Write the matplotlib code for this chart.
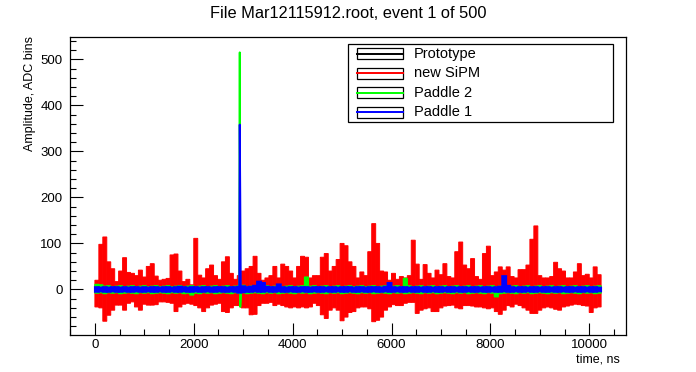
import numpy as np
import matplotlib
matplotlib.use("Agg")
import matplotlib.pyplot as plt
from matplotlib.patches import Rectangle
from matplotlib.lines import Line2D
from matplotlib.ticker import MultipleLocator

plt.rcParams['font.family'] = ['Liberation Sans', 'DejaVu Sans']

title = "File Mar12115912.root, event 1 of 500"
xlabel = "time, ns"
ylabel = "Amplitude, ADC bins"
series_names = ["Prototype", "new SiPM", "Paddle 2", "Paddle 1"]
series_colors = ["#000000", "#ff0000", "#00ff00", "#0000ff"]

block_ns = 80          # width of one envelope block
# new SiPM: upper / lower excursions per 80 ns block
red_hi = [20, 98, 114, 60, 45, 17, 40, 69, 37, 35, 30, 42, 27, 50, 56, 29,
          20, 22, 24, 75, 77, 40, 17, 22, 10, 111, 31, 25, 45, 53, 30, 22,
          60, 71, 35, 22, 30, 40, 45, 50, 72, 35, 20, 25, 30, 50, 25, 55,
          50, 40, 25, 50, 72, 70, 25, 30, 30, 70, 78, 40, 50, 65, 100, 95,
          60, 50, 25, 38, 30, 82, 143, 100, 40, 38, 20, 35, 22, 28, 25, 30,
          107, 55, 22, 54, 35, 25, 42, 32, 56, 28, 25, 82, 103, 53, 45, 67,
          28, 22, 78, 94, 30, 38, 49, 42, 49, 28, 25, 43, 43, 53, 109, 138,
          30, 25, 25, 28, 59, 45, 40, 25, 25, 38, 56, 30, 33, 25, 49, 32]
red_lo = [-38, -40, -69, -56, -45, -34, -34, -45, -30, -27, -38, -45, -32, -34, -34, -33,
          -27, -27, -28, -30, -48, -38, -32, -30, -32, -35, -40, -48, -40, -34, -32, -30,
          -48, -50, -40, -35, -35, -40, -40, -55, -54, -35, -30, -30, -28, -35, -32, -35,
          -38, -40, -38, -40, -38, -40, -38, -30, -35, -55, -63, -45, -40, -45, -68, -60,
          -50, -48, -40, -38, -38, -42, -70, -67, -60, -45, -38, -33, -35, -35, -30, -28,
          -28, -52, -45, -42, -40, -48, -48, -40, -36, -35, -34, -40, -42, -35, -35, -36,
          -38, -38, -40, -42, -40, -48, -54, -45, -35, -38, -32, -35, -40, -45, -52, -52,
          -45, -40, -38, -40, -43, -45, -38, -36, -34, -32, -33, -35, -36, -50, -40, -38]
# Paddle 1 (blue) upper / lower per 80 ns block
blue_hi = [5, 4, 5, 4, 5, 5, 4, 5, 4, 5, 5, 4, 5, 4, 5, 5,
           4, 5, 5, 4, 5, 6, 5, 4, 5, 5, 4, 5, 5, 4, 5, 5,
           5, 4, 5, 5, 6, 7, 5, 6, 8, 17, 14, 6, 5, 5, 11, 5,
           4, 5, 5, 4, 5, 5, 4, 5, 5, 5, 4, 5, 5, 4, 5, 5,
           5, 4, 5, 5, 4, 5, 5, 5, 4, 6, 14, 5, 4, 5, 5, 4,
           5, 5, 4, 5, 5, 4, 5, 5, 4, 5, 5, 4, 5, 5, 4, 5,
           5, 4, 5, 5, 4, 5, 6, 29, 8, 5, 4, 5, 5, 4, 5, 5,
           4, 5, 5, 4, 5, 5, 4, 5, 5, 4, 5, 5, 4, 5, 5, 4]
blue_lo = [-5, -4, -5, -5, -4, -5, -5, -4, -5, -5, -4, -5, -5, -4, -5, -5,
           -4, -5, -5, -4, -5, -5, -4, -5, -5, -4, -5, -5, -4, -5, -5, -4,
           -5, -5, -4, -5, -7, -6, -5, -5, -4, -5, -5, -4, -5, -5, -4, -5,
           -5, -4, -5, -5, -4, -5, -5, -4, -5, -5, -4, -5, -5, -4, -5, -5,
           -4, -5, -5, -4, -5, -5, -4, -5, -5, -4, -5, -5, -4, -5, -5, -4,
           -5, -5, -4, -5, -5, -4, -5, -5, -4, -5, -5, -4, -5, -5, -4, -5,
           -5, -4, -5, -5, -4, -5, -5, -4, -5, -5, -4, -5, -5, -4, -5, -5,
           -4, -5, -5, -4, -5, -5, -4, -5, -5, -4, -5, -5, -4, -5, -5, -4]
# Paddle 2 (green) upper / lower per 80 ns block
green_hi = [11, 10, 7, 8, 6, 7, 8, 6, 7, 8, 6, 7, 8, 6, 7, 8,
            6, 7, 8, 6, 7, 8, 6, 7, 8, 6, 7, 8, 6, 7, 8, 6,
            7, 8, 6, 7, 8, 9, 6, 7, 8, 6, 7, 8, 6, 7, 8, 6,
            7, 8, 6, 7, 8, 27, 7, 8, 6, 7, 8, 6, 7, 8, 6, 7,
            8, 6, 7, 8, 6, 7, 8, 6, 7, 8, 6, 7, 8, 6, 24, 8,
            6, 7, 8, 6, 7, 8, 6, 7, 8, 6, 7, 8, 6, 7, 8, 6,
            7, 8, 6, 7, 8, 6, 7, 8, 6, 7, 8, 6, 7, 8, 6, 7,
            8, 6, 7, 8, 6, 7, 8, 6, 7, 8, 6, 7, 8, 6, 7, 8]
green_lo = [-8, -7, -9, -7, -8, -7, -9, -8, -7, -8, -9, -7, -8, -7, -9, -8,
            -7, -8, -9, -7, -8, -7, -9, -8, -12, -8, -9, -7, -8, -7, -9, -8,
            -7, -8, -9, -7, -8, -7, -9, -8, -7, -8, -9, -7, -8, -7, -9, -8,
            -7, -8, -9, -7, -8, -7, -9, -8, -7, -8, -9, -7, -8, -7, -9, -8,
            -7, -8, -9, -7, -8, -7, -9, -8, -7, -8, -9, -7, -8, -7, -9, -8,
            -7, -8, -9, -7, -8, -7, -9, -8, -7, -8, -9, -7, -8, -7, -9, -8,
            -7, -8, -9, -7, -8, -16, -9, -8, -7, -8, -9, -7, -8, -7, -9, -8,
            -7, -8, -9, -7, -8, -7, -9, -8, -7, -8, -9, -7, -8, -7, -9, -8]
# the pulse around 2940 ns (10 ns samples)
spike_t = [2920, 2930, 2940, 2950, 2960]
blue_spike = [4, 358, 205, 6, -4]
green_spike = [6, 515, -38, -20, 5]
# Prototype channel (flat, hidden under the others)
proto_t = [0, 10230]
proto_v = [0, 0]

x_range = (-512, 10752)
y_range = (-98.5, 548)

nb = len(red_hi)
t_left = np.arange(nb) * block_ns

W, H = 696, 372
fig = plt.figure(figsize=(W / 100, H / 100), dpi=100)
ax = fig.add_axes([0.1, 0.1, 0.8, 0.8])


def band(hi, lo, color, edge_lw, z):
    hi = np.asarray(hi, float)
    lo = np.asarray(lo, float)
    bars = ax.bar(t_left, hi - lo, bottom=lo, width=block_ns, align='edge',
                  color=color, edgecolor=color, linewidth=edge_lw, zorder=z)
    for b in bars:
        b.set_snap(False)


lw = 1.4
ax.plot(proto_t, proto_v, color=series_colors[0], lw=lw, zorder=1)
band(red_hi, red_lo, series_colors[1], 0.7, 2)
band(green_hi, green_lo, series_colors[2], 0.9, 3)
ax.plot(spike_t, green_spike, color=series_colors[2], lw=lw, zorder=3.5)
band(blue_hi, blue_lo, series_colors[3], 1.4, 4)
ax.plot(spike_t, blue_spike, color=series_colors[3], lw=lw, zorder=4.5)

ax.set_xlim(*x_range)
ax.set_ylim(*y_range)
ax.xaxis.set_major_locator(MultipleLocator(2000))
ax.xaxis.set_minor_locator(MultipleLocator(500))
ax.yaxis.set_major_locator(MultipleLocator(100))
ax.yaxis.set_minor_locator(MultipleLocator(20))
ax.tick_params(which='both', direction='in', top=False, right=False,
               labelsize=9.5, width=0.8)
ax.tick_params(axis='x', pad=3)
ax.tick_params(axis='y', pad=5)
ax.tick_params(which='major', length=9)
ax.tick_params(which='minor', length=4.5)
for s in ax.spines.values():
    s.set_linewidth(0.9)
    s.set_zorder(6)

fig.text(0.5, 1 - 13 / H, title, ha='center', va='center', fontsize=11.8)
fig.text(620 / W, 1 - 360 / H, xlabel, ha='right', va='center', fontsize=9)
fig.text(30 / W, 1 - 36 / H, ylabel, ha='center', va='top', rotation=90, fontsize=9)

# legend box (ROOT style)
lx0, lx1, ly0, ly1 = 348 / W, 613 / W, 1 - 122 / H, 1 - 44 / H
fig.patches.append(Rectangle((lx0, ly0), lx1 - lx0, ly1 - ly0, transform=fig.transFigure,
                             facecolor='white', edgecolor='black', lw=0.9, zorder=5))
row_h = (ly1 - ly0) / 4
for i, (name, col) in enumerate(zip(series_names, series_colors)):
    yc = ly1 - (i + 0.5) * row_h
    bx0, bx1 = 357 / W, 403 / W
    bh = 11 / H
    fig.patches.append(Rectangle((bx0, yc - bh / 2), bx1 - bx0, bh, transform=fig.transFigure,
                                 facecolor='white', edgecolor='black', lw=0.9, zorder=6))
    fig.lines.append(Line2D([bx0, bx1], [yc, yc], transform=fig.transFigure,
                            color=col, lw=1.4, zorder=7))
    fig.text(414 / W, yc, name, ha='left', va='center', fontsize=10.5, zorder=8)

fig.savefig("out.png", dpi=100)
